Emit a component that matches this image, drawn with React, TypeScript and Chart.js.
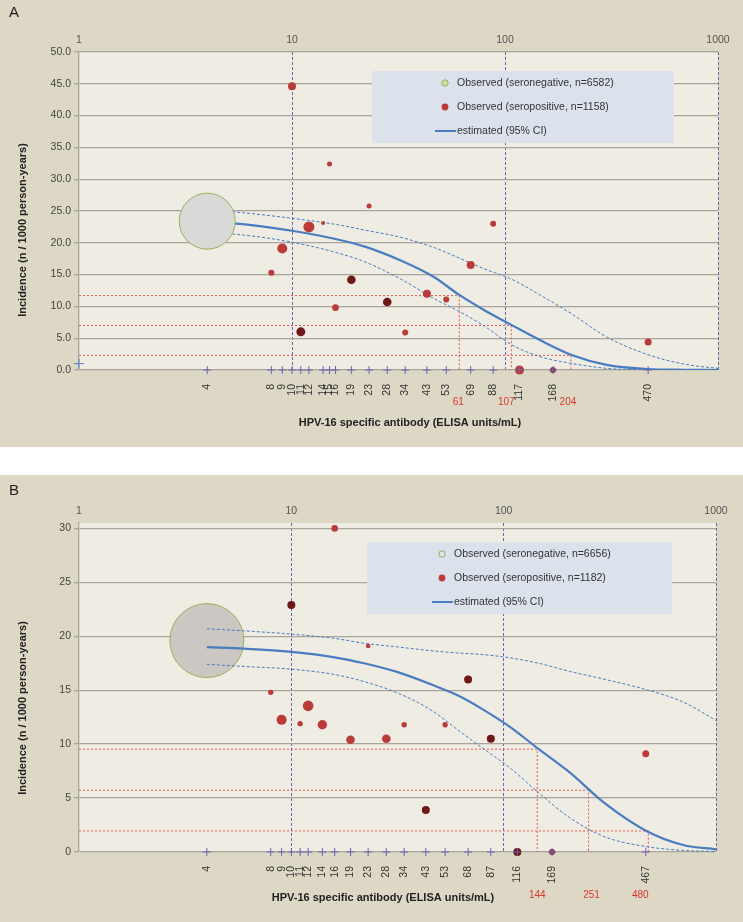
import React, { useEffect, useRef } from 'react';
import { Chart, registerables } from 'chart.js';
Chart.register(...registerables);

const FONT = "'Liberation Sans', Arial, sans-serif";

// ---------------- Panel A data ----------------
const A_xTicks = [4, 8, 9, 10, 11, 12, 14, 15, 16, 19, 23, 28, 34, 43, 53, 69, 88, 117, 168, 470];
const A_topTicks = [1, 10, 100, 1000];
const A_yTicks = [0, 5, 10, 15, 20, 25, 30, 35, 40, 45, 50];
const A_posX = [8, 9, 10, 11, 12, 14, 15, 16, 19, 23, 28, 34, 43, 53, 69, 88, 117, 168, 470];
const A_posY = [15.3, 19.1, 44.6, 6.0, 22.5, 23.1, 32.4, 9.8, 14.2, 25.8, 10.7, 5.9, 12.0, 11.1, 16.5, 23.0, 0, 0, 4.4];
const A_posR = [3, 5, 4, 4.5, 5.5, 2, 2.5, 3.3, 4.3, 2.5, 4.3, 3, 4, 3, 4, 3, 4.5, 3, 3.5];
const A_posShade = [0, 0, 0, 1, 0, 0, 0, 0, 1, 0, 1, 0, 0, 0, 0, 0, 0, 2, 0];
const A_negX = [4];
const A_negY = [23.4];
const A_negR = [28];
const A_curveX = [4, 6, 10, 16, 22, 32, 46, 61, 80, 107, 146, 204, 300, 470, 700, 1000];
const A_est = [23.3, 22.9, 21.9, 20.6, 19.4, 17.3, 14.7, 11.8, 9.4, 7.1, 4.7, 2.4, 0.8, 0.15, 0.03, 0];
const A_upper = [25.2, 24.7, 23.85, 22.9, 22.0, 20.9, 19.3, 17.6, 15.9, 14.3, 11.8, 8.9, 5.2, 2.4, 0.9, 0.26];
const A_lower = [21.6, 21.2, 20.1, 18.5, 17.0, 14.4, 11.3, 9.2, 6.9, 4.0, 2.1, 1.05, 0.26, 0.03, 0, 0];
const A_cutX = [61, 107, 204];
const A_cutY = [11.7, 7.0, 2.3];
const A_markX = [1];
const A_markY = [1.0];
const A_legend = ['Observed (seronegative, n=6582)', 'Observed (seropositive, n=1158)', 'estimated (95% CI)'];

// ---------------- Panel B data ----------------
const B_xTicks = [4, 8, 9, 10, 11, 12, 14, 16, 19, 23, 28, 34, 43, 53, 68, 87, 116, 169, 467];
const B_topTicks = [1, 10, 100, 1000];
const B_yTicks = [0, 5, 10, 15, 20, 25, 30];
const B_posX = [8, 9, 10, 11, 12, 14, 16, 19, 23, 28, 34, 43, 53, 68, 87, 116, 169, 467];
const B_posY = [14.8, 12.25, 22.9, 11.9, 13.55, 11.8, 30.0, 10.4, 19.1, 10.5, 11.8, 3.9, 11.8, 16.0, 10.5, 0, 0, 9.1];
const B_posR = [2.7, 5, 4, 2.7, 5.3, 4.7, 3.3, 4.3, 2.3, 4.3, 2.7, 4, 2.7, 4, 4, 4, 3, 3.5];
const B_posShade = [0, 0, 1, 0, 0, 0, 0, 0, 0, 0, 0, 1, 0, 1, 1, 1, 2, 0];
const B_negX = [4];
const B_negY = [19.6];
const B_negR = [37];
const B_curveX = [4, 6, 10, 16, 22, 32, 46, 61, 80, 107, 146, 204, 300, 470, 700, 1000];
const B_est = [19.0, 18.85, 18.55, 18.05, 17.5, 16.65, 15.5, 14.5, 13.2, 11.6, 9.55, 7.4, 4.5, 1.95, 0.65, 0.25];
const B_upper = [20.7, 20.5, 20.2, 19.8, 19.35, 19.0, 18.65, 18.45, 18.3, 18.0, 17.5, 16.75, 16.0, 15.05, 13.9, 12.2];
const B_lower = [17.4, 17.2, 16.95, 16.45, 15.8, 14.7, 13.1, 11.3, 9.6, 7.8, 5.5, 3.2, 1.4, 0.5, 0.15, 0.05];
const B_cutX = [144, 251, 480];
const B_cutY = [9.53, 5.73, 1.95];
const B_markX: number[] = [];
const B_markY: number[] = [];
const B_legend = ['Observed (seronegative, n=6656)', 'Observed (seropositive, n=1182)', 'estimated (95% CI)'];

const X_TITLE = 'HPV-16 specific antibody (ELISA units/mL)';
const Y_TITLE = 'Incidence (n / 1000 person-years)';

const BEIGE = '#ddd7c5';
const PLOT_BG = '#eeece3';
const GRID = '#a8a59c';
const PURPLE = '#6f63ae';
const BLUE = '#4a7dbf';
const SHADES = ['#bb3b3b', '#6e1818', '#8e3548'];
const CUT_RED = '#e2574f';
const LABEL_RED = '#d93a2e';
const LEGEND_BG = '#dbe2ec';
const GREEN = '#9bb15b';

type PanelCfg = {
  letter: string;
  top: number;
  height: number;
  plotTop: number;
  plotBottom: number;
  rightPad: number;
  yMax: number;
  yDecimals: boolean;
  xTicks: number[];
  topTicks: number[];
  yTicks: number[];
  posX: number[]; posY: number[]; posR: number[]; posShade: number[];
  negX: number[]; negY: number[]; negR: number[];
  negFill: string; negFilled: boolean; circleOnTop: boolean;
  curveX: number[]; est: number[]; upper: number[]; lower: number[];
  cutX: number[]; cutY: number[]; cutLabelDx: number[];
  markX: number[]; markY: number[];
  legend: string[];
  legendBox: [number, number, number, number];
  legendMarkerX: number; legendTextX: number; legendRows: number[];
  letterY: number;
  yTitle: [number, number];
  xTitle: [number, number];
  cutLabelY: number;
};

const PANEL_A: PanelCfg = {
  letter: 'A', top: 0, height: 447, plotTop: 52, plotBottom: 370, rightPad: 25,
  yMax: 50, yDecimals: true,
  xTicks: A_xTicks, topTicks: A_topTicks, yTicks: A_yTicks,
  posX: A_posX, posY: A_posY, posR: A_posR, posShade: A_posShade,
  negX: A_negX, negY: A_negY, negR: A_negR, negFill: '#d9d9d7', negFilled: true, circleOnTop: true,
  curveX: A_curveX, est: A_est, upper: A_upper, lower: A_lower,
  cutX: A_cutX, cutY: A_cutY, cutLabelDx: [-1, -5, -3], markX: A_markX, markY: A_markY,
  legend: A_legend, legendBox: [372, 71, 302, 72], legendMarkerX: 445, legendTextX: 457, legendRows: [83, 107, 131],
  letterY: 13, yTitle: [23, 230], xTitle: [410, 423], cutLabelY: 402,
};

const PANEL_B: PanelCfg = {
  letter: 'B', top: 475, height: 447, plotTop: 48, plotBottom: 377, rightPad: 27,
  yMax: 30.5, yDecimals: false,
  xTicks: B_xTicks, topTicks: B_topTicks, yTicks: B_yTicks,
  posX: B_posX, posY: B_posY, posR: B_posR, posShade: B_posShade,
  negX: B_negX, negY: B_negY, negR: B_negR, negFill: '#cbc8c4', negFilled: false, circleOnTop: false,
  curveX: B_curveX, est: B_est, upper: B_upper, lower: B_lower,
  cutX: B_cutX, cutY: B_cutY, cutLabelDx: [0, 3, -8], markX: B_markX, markY: B_markY,
  legend: B_legend, legendBox: [367, 67, 305, 72], legendMarkerX: 442, legendTextX: 454, legendRows: [79, 103, 127],
  letterY: 16, yTitle: [23, 233], xTitle: [383, 423], cutLabelY: 420,
};

function buildChart(canvas: HTMLCanvasElement, p: PanelCfg) {
  const zip = (xs: number[], ys: number[]) => xs.map((x, i) => ({ x, y: ys[i] }));
  const datasets: any[] = [];

  p.cutX.forEach((cx, i) => {
    datasets.push({
      type: 'line',
      data: [{ x: 1, y: p.cutY[i] }, { x: cx, y: p.cutY[i] }, { x: cx, y: 0 }],
      borderColor: CUT_RED, borderWidth: 1, borderDash: [2, 2], pointRadius: 0, tension: 0, order: 10,
    });
  });
  datasets.push({
    type: 'line', data: zip(p.curveX, p.upper), borderColor: BLUE, borderWidth: 1, borderDash: [3, 2],
    pointRadius: 0, cubicInterpolationMode: 'monotone', order: 6,
  });
  datasets.push({
    type: 'line', data: zip(p.curveX, p.lower), borderColor: BLUE, borderWidth: 1, borderDash: [3, 2],
    pointRadius: 0, cubicInterpolationMode: 'monotone', order: 6,
  });
  datasets.push({
    type: 'line', data: zip(p.curveX, p.est), borderColor: BLUE, borderWidth: 2.2,
    pointRadius: 0, cubicInterpolationMode: 'monotone', order: 5,
  });
  datasets.push({
    type: 'scatter', data: zip(p.negX, p.negY), pointRadius: p.negR, pointHoverRadius: p.negR,
    pointBackgroundColor: p.negFill, pointBorderColor: GREEN, pointBorderWidth: 1,
    order: p.circleOnTop ? 3 : 20, clip: false,
  });
  datasets.push({
    type: 'scatter', data: zip(p.posX, p.posY), pointRadius: p.posR, pointHoverRadius: p.posR,
    pointBackgroundColor: p.posShade.map((s) => SHADES[s]), pointBorderWidth: 0, pointBorderColor: 'rgba(0,0,0,0)',
    order: 2, clip: false,
  });
  datasets.push({
    type: 'scatter', data: p.xTicks.map((v) => ({ x: v, y: 0 })), pointStyle: 'cross', pointRadius: 4,
    pointBorderColor: PURPLE, pointBorderWidth: 1, order: 1, clip: false,
  });
  datasets.push({
    type: 'scatter', data: zip(p.markX, p.markY), pointStyle: 'cross', pointRadius: 5,
    pointBorderColor: '#5b7fd0', pointBorderWidth: 1, order: 1, clip: false,
  });

  const font = { family: FONT, size: 10.5 };

  const deco = {
    id: 'deco',
    beforeDraw(chart: any) {
      const { ctx, chartArea: a } = chart;
      ctx.save();
      ctx.fillStyle = BEIGE;
      ctx.fillRect(0, 0, chart.width, chart.height);
      ctx.fillStyle = PLOT_BG;
      ctx.fillRect(a.left, a.top, a.right - a.left, a.bottom - a.top);
      ctx.restore();
    },
    beforeDatasetsDraw(chart: any) {
      const { ctx } = chart;
      const [bx, by, bw, bh] = p.legendBox;
      ctx.save();
      ctx.fillStyle = LEGEND_BG;
      ctx.fillRect(bx, by, bw, bh);
      ctx.font = `10.5px ${FONT}`;
      ctx.fillStyle = '#333';
      ctx.textAlign = 'left';
      ctx.textBaseline = 'middle';
      p.legend.forEach((t, i) => ctx.fillText(t, p.legendTextX, p.legendRows[i]));
      const mx = p.legendMarkerX;
      ctx.beginPath();
      ctx.arc(mx, p.legendRows[0], 3.2, 0, Math.PI * 2);
      if (p.negFilled) { ctx.fillStyle = '#cfdca8'; ctx.fill(); }
      ctx.strokeStyle = GREEN; ctx.lineWidth = 1; ctx.stroke();
      ctx.beginPath();
      ctx.arc(mx, p.legendRows[1], 3.4, 0, Math.PI * 2);
      ctx.fillStyle = SHADES[0]; ctx.fill();
      ctx.beginPath();
      ctx.moveTo(mx - 10, p.legendRows[2]);
      ctx.lineTo(p.legendTextX - 1, p.legendRows[2]);
      ctx.strokeStyle = BLUE; ctx.lineWidth = 2; ctx.stroke();
      ctx.restore();
    },
    afterDraw(chart: any) {
      const { ctx } = chart;
      ctx.save();
      ctx.fillStyle = '#222';
      ctx.font = `15px ${FONT}`;
      ctx.textAlign = 'left';
      ctx.textBaseline = 'middle';
      ctx.fillText(p.letter, 9, p.letterY);
      ctx.font = `bold 11px ${FONT}`;
      ctx.textAlign = 'center';
      ctx.fillText(X_TITLE, p.xTitle[0], p.xTitle[1]);
      ctx.save();
      ctx.translate(p.yTitle[0], p.yTitle[1]);
      ctx.rotate(-Math.PI / 2);
      ctx.fillText(Y_TITLE, 0, 0);
      ctx.restore();
      ctx.font = `10px ${FONT}`;
      ctx.fillStyle = LABEL_RED;
      const xs = chart.scales.x;
      p.cutX.forEach((v, i) => ctx.fillText(String(v), xs.getPixelForValue(v) + p.cutLabelDx[i], p.cutLabelY));
      ctx.restore();
    },
  };

  return new Chart(canvas, {
    type: 'scatter',
    data: { datasets },
    plugins: [deco],
    options: {
      animation: false,
      responsive: false,
      devicePixelRatio: 1,
      events: [],
      layout: { autoPadding: false, padding: { left: 0, right: p.rightPad, top: 0, bottom: 0 } },
      plugins: { legend: { display: false }, tooltip: { enabled: false } },
      scales: {
        x: {
          type: 'logarithmic', position: 'bottom', min: 1, max: 1000,
          afterBuildTicks: (s: any) => { s.ticks = p.xTicks.map((v) => ({ value: v })); },
          afterFit: (s: any) => { s.height = p.height - p.plotBottom; },
          ticks: {
            autoSkip: false, minRotation: 90, maxRotation: 90, padding: 6, color: '#333', font,
            callback: (v: any) => String(v),
          },
          grid: { display: false },
          border: { display: false },
        },
        x2: {
          type: 'logarithmic', position: 'top', min: 1, max: 1000,
          afterBuildTicks: (s: any) => { s.ticks = p.topTicks.map((v) => ({ value: v })); },
          afterFit: (s: any) => { s.height = p.plotTop; },
          ticks: { autoSkip: false, maxRotation: 0, padding: 6, color: '#555', font, callback: (v: any) => String(v) },
          grid: {
            drawTicks: false, lineWidth: 1,
            color: (c: any) => (c.tick && c.tick.value === 1 ? 'rgba(0,0,0,0)' : PURPLE),
          },
          border: { display: false, dash: [3, 2] },
        },
        y: {
          type: 'linear', min: 0, max: p.yMax,
          afterBuildTicks: (s: any) => { s.ticks = p.yTicks.map((v) => ({ value: v })); },
          afterFit: (s: any) => { s.width = 79; },
          ticks: {
            padding: 3, color: '#444', font,
            callback: (v: any) => (p.yDecimals ? Number(v).toFixed(1) : String(v)),
          },
          grid: { color: GRID, lineWidth: 1.3, tickLength: 5, tickColor: GRID },
          border: { display: true, color: GRID, width: 1.3 },
        },
      },
    } as any,
  });
}

function Panel({ cfg }: { cfg: PanelCfg }) {
  const ref = useRef<HTMLCanvasElement>(null);
  useEffect(() => {
    const chart = buildChart(ref.current as HTMLCanvasElement, cfg);
    return () => chart.destroy();
  }, [cfg]);
  return (
    <canvas
      ref={ref}
      width={743}
      height={cfg.height}
      style={{ position: 'absolute', left: 0, top: cfg.top, width: 743, height: cfg.height, display: 'block' }}
    />
  );
}

export default function App() {
  return (
    <div style={{ position: 'absolute', left: 0, top: 0, width: 743, height: 922, background: '#ffffff', overflow: 'hidden' }}>
      <Panel cfg={PANEL_A} />
      <Panel cfg={PANEL_B} />
    </div>
  );
}
